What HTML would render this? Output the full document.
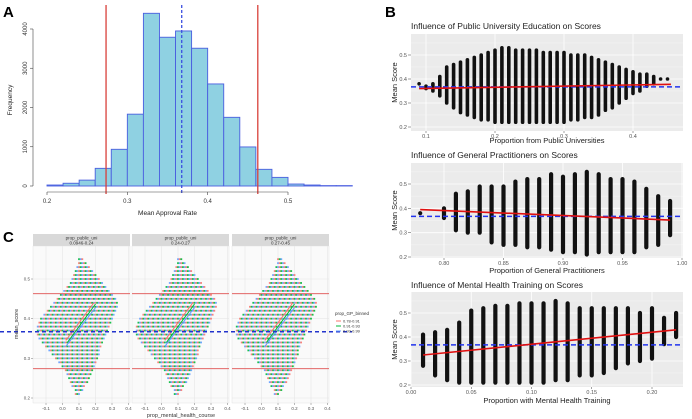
<!DOCTYPE html>
<html><head><meta charset="utf-8">
<style>
html,body{margin:0;padding:0;background:#fff;}
svg{display:block;font-family:"Liberation Sans",sans-serif;}
</style></head>
<body>
<svg id="fig" width="692" height="419" viewBox="0 0 692 419" xmlns="http://www.w3.org/2000/svg">
<g id="A"></g>
<g id="B1"></g>
<g id="B2"></g>
<g id="B3"></g>
<g id="C"></g>
</svg>
<script>
// ---------- Panel A data ----------
const histBinStarts = [0.20,0.22,0.24,0.26,0.28,0.30,0.32,0.34,0.36,0.38,0.40,0.42,0.44,0.46,0.48,0.50,0.52,0.54,0.56];
const histCounts = [25,70,150,450,935,1830,4400,3790,3950,3510,2600,1750,995,425,220,50,25,10,10];
const histYTicks = [0,1000,2000,3000,4000];
const histXTicks = [0.2,0.3,0.4,0.5];
const histRedLines = [0.2735,0.4624];
const histMeanLine = [0.3677];

// ---------- Panel B data ----------
const b1X = [0.09,0.10,0.11,0.12,0.13,0.14,0.15,0.16,0.17,0.18,0.19,0.20,0.21,0.22,0.23,0.24,0.25,0.26,0.27,0.28,0.29,0.30,0.31,0.32,0.33,0.34,0.35,0.36,0.37,0.38,0.39,0.40,0.41,0.42,0.43,0.44,0.45];
const b1Min = [0.38,0.36,0.35,0.33,0.30,0.28,0.26,0.25,0.24,0.23,0.23,0.22,0.22,0.22,0.22,0.22,0.22,0.22,0.22,0.22,0.22,0.22,0.23,0.23,0.24,0.24,0.25,0.27,0.28,0.30,0.32,0.34,0.35,0.37,0.38,0.40,0.40];
const b1Max = [0.38,0.37,0.38,0.41,0.45,0.46,0.47,0.48,0.49,0.50,0.51,0.52,0.53,0.53,0.52,0.52,0.52,0.52,0.51,0.51,0.51,0.51,0.50,0.50,0.50,0.49,0.48,0.47,0.46,0.45,0.44,0.43,0.42,0.42,0.41,0.40,0.40];
const b1Fit = [[0.09,0.360],[0.455,0.378]];
const b1XTicks = [0.1,0.2,0.3,0.4];

const b2X = [0.78,0.80,0.81,0.82,0.83,0.84,0.85,0.86,0.87,0.88,0.89,0.90,0.91,0.92,0.93,0.94,0.95,0.96,0.97,0.98,0.99];
const b2Min = [0.38,0.36,0.31,0.30,0.30,0.26,0.25,0.25,0.24,0.24,0.23,0.22,0.22,0.21,0.22,0.22,0.22,0.22,0.24,0.25,0.29];
const b2Max = [0.38,0.40,0.46,0.47,0.49,0.49,0.49,0.51,0.52,0.52,0.54,0.53,0.54,0.55,0.54,0.52,0.52,0.51,0.48,0.45,0.43];
const b2Fit = [[0.78,0.395],[0.99,0.352]];
const b2XTicks = [0.80,0.85,0.90,0.95,1.00];

const b3X = [0.01,0.02,0.03,0.04,0.05,0.06,0.07,0.08,0.09,0.10,0.11,0.12,0.13,0.14,0.15,0.16,0.17,0.18,0.19,0.20,0.21,0.22];
const b3Min = [0.28,0.24,0.22,0.21,0.21,0.21,0.21,0.21,0.21,0.21,0.21,0.22,0.22,0.24,0.24,0.25,0.27,0.29,0.30,0.31,0.37,0.40];
const b3Max = [0.41,0.42,0.43,0.46,0.51,0.52,0.53,0.53,0.54,0.54,0.54,0.55,0.54,0.52,0.52,0.52,0.52,0.52,0.50,0.52,0.48,0.50];
const b3Fit = [[0.01,0.325],[0.22,0.430]];
const b3XTicks = [0.00,0.05,0.10,0.15,0.20];
const bYTicks = [0.2,0.3,0.4,0.5];
const bMeanLine = [0.367];

// ---------- Panel C data ----------
const cRowY = [0.21,0.22,0.23,0.24,0.25,0.26,0.27,0.28,0.29,0.30,0.31,0.32,0.33,0.34,0.35,0.36,0.37,0.38,0.39,0.40,0.41,0.42,0.43,0.44,0.45,0.46,0.47,0.48,0.49,0.50,0.51,0.52,0.53,0.54,0.55];
const cRowMin = [0.08,0.08,0.06,0.05,0.04,0.03,0.02,0.0,-0.02,-0.04,-0.06,-0.08,-0.10,-0.12,-0.14,-0.15,-0.15,-0.15,-0.14,-0.13,-0.11,-0.09,-0.07,-0.05,-0.03,-0.01,0.01,0.03,0.05,0.06,0.07,0.08,0.09,0.10,0.10];
const cRowMax = [0.10,0.12,0.13,0.15,0.16,0.17,0.18,0.19,0.20,0.21,0.22,0.22,0.23,0.24,0.25,0.26,0.27,0.28,0.29,0.30,0.31,0.32,0.33,0.33,0.32,0.30,0.28,0.26,0.24,0.22,0.20,0.18,0.16,0.14,0.12];
const cFacetLabels = ["0.0946-0.24","0.24-0.27","0.27-0.45"];
const cFitRed = [[0.02,0.345],[0.19,0.440]];
const cFitGreen = [[0.03,0.340],[0.20,0.437]];
const cFitBlue = [[0.02,0.330],[0.20,0.428]];
const cXTicks = [-0.1,0.0,0.1,0.2,0.3,0.4];
const cYTicks = [0.2,0.3,0.4,0.5];
const cRedLines = [0.463,0.274];
const cMeanLine = [0.367];
const cLegendLabels = ["0.78-0.91","0.91-0.93","0.93-0.99"];
const cColors = ["#f8766d","#00ba38","#619cff"];

const NS = "http://www.w3.org/2000/svg";
function mk(parent, tag, attrs, text){
  const e = document.createElementNS(NS, tag);
  for (const k in attrs) e.setAttribute(k, attrs[k]);
  if (text !== undefined) e.textContent = text;
  parent.appendChild(e);
  return e;
}
function lin(d0,d1,r0,r1){ return v => r0 + (v-d0)/(d1-d0)*(r1-r0); }

// ================= Panel A =================
(function(){
  const g = document.getElementById('A');
  const x = lin(0.2,0.5,47,288);
  const y = lin(0,4000,186,29);
  let t = mk(g,'text',{x:3,y:17,'font-size':15,'font-weight':'bold',fill:'#000'},'A');
   
  histBinStarts.forEach((b,i)=>{
    const r = mk(g,'rect',{x:x(b),y:y(histCounts[i]),width:x(b+0.02)-x(b),height:y(0)-y(histCounts[i]),fill:'#8fd1e2',stroke:'#4a5ee0','stroke-width':0.9});
     
  });
  histRedLines.forEach(v=>{
    const l = mk(g,'line',{x1:x(v),x2:x(v),y1:5,y2:194,stroke:'#d9403a','stroke-width':1.3});
     
  });
  histMeanLine.forEach(v=>{
    const l = mk(g,'line',{x1:x(v),x2:x(v),y1:5,y2:194,stroke:'#3b4fe0','stroke-width':1.3,'stroke-dasharray':'3,2'});
     
  });
  let ax = mk(g,'line',{x1:x(0.2),x2:x(0.5),y1:192,y2:192,stroke:'#444','stroke-width':0.6});
   
  histXTicks.forEach(v=>{
    mk(g,'line',{x1:x(v),x2:x(v),y1:192,y2:195,stroke:'#444','stroke-width':0.6});
    const tl = mk(g,'text',{x:x(v),y:203,'font-size':6,'text-anchor':'middle',fill:'#333'},v.toFixed(1));
     
  });
  let ay = mk(g,'line',{x1:33,x2:33,y1:y(0),y2:y(4000),stroke:'#444','stroke-width':0.6});
   
  histYTicks.forEach(v=>{
    mk(g,'line',{x1:30,x2:33,y1:y(v),y2:y(v),stroke:'#444','stroke-width':0.6});
    const tl = mk(g,'text',{x:0,y:0,'font-size':6,'text-anchor':'middle',fill:'#333',transform:`translate(27,${y(v)}) rotate(-90)`},String(v));
     
  });
  t = mk(g,'text',{x:0,y:0,'font-size':6.5,'text-anchor':'middle',fill:'#222',transform:'translate(12,100) rotate(-90)'},'Frequency');
   
  t = mk(g,'text',{x:x(0.35),y:215,'font-size':6.5,'text-anchor':'middle',fill:'#222'},'Mean Approval Rate');
   
})();

// ================= Panel B =================
function drawB(id, cfg){
  const g = document.getElementById(id);
  const x = lin(cfg.xd[0],cfg.xd[1],cfg.xr[0],cfg.xr[1]);
  const y = lin(0.2,0.5,cfg.y02,cfg.y05);
  let r = mk(g,'rect',{x:411,y:cfg.top,width:272,height:cfg.bottom-cfg.top,fill:'#ebebeb'});
   
  bYTicks.forEach(v=>{
    mk(g,'line',{x1:411,x2:683,y1:y(v),y2:y(v),stroke:'#fff','stroke-width':0.8});
    mk(g,'line',{x1:411,x2:683,y1:y(v+0.05),y2:y(v+0.05),stroke:'#f6f6f6','stroke-width':0.4});
    mk(g,'line',{x1:408,x2:411,y1:y(v),y2:y(v),stroke:'#444','stroke-width':0.5});
    const tl = mk(g,'text',{x:407,y:y(v)+2,'font-size':5.5,'text-anchor':'end',fill:'#555'},v.toFixed(1));
     
  });
  cfg.ticks.forEach(v=>{
    mk(g,'line',{x1:x(v),x2:x(v),y1:cfg.top,y2:cfg.bottom,stroke:'#fff','stroke-width':0.8});
    mk(g,'line',{x1:x(v),x2:x(v),y1:cfg.bottom,y2:cfg.bottom+2,stroke:'#444','stroke-width':0.5});
    const tl = mk(g,'text',{x:x(v),y:cfg.bottom+7,'font-size':5.5,'text-anchor':'middle',fill:'#555'},cfg.fmt(v));
     
  });
  cfg.xs.forEach((xv,i)=>{
    const c = mk(g,'line',{x1:x(xv),x2:x(xv),y1:y(cfg.mins[i]),y2:y(cfg.maxs[i]),stroke:'#111','stroke-width':cfg.colW,'stroke-linecap':'round'});
     
  });
  bMeanLine.forEach(v=>{
    const l = mk(g,'line',{x1:411,x2:683,y1:y(v),y2:y(v),stroke:'#2233ee','stroke-width':1.5,'stroke-dasharray':'5,3'});
     
  });
  const f = mk(g,'line',{x1:x(cfg.fit[0][0]),y1:y(cfg.fit[0][1]),x2:x(cfg.fit[1][0]),y2:y(cfg.fit[1][1]),stroke:'#e01010','stroke-width':1.6});
   
  let t = mk(g,'text',{x:411,y:cfg.titleY,'font-size':8.5,fill:'#222'},cfg.title);
   
  t = mk(g,'text',{x:547,y:cfg.xlabY,'font-size':7.5,'text-anchor':'middle',fill:'#222'},cfg.xlab);
   
  t = mk(g,'text',{x:0,y:0,'font-size':7.5,'text-anchor':'middle',fill:'#222',transform:`translate(397,${(cfg.top+cfg.bottom)/2}) rotate(-90)`},'Mean Score');
   
}
(function(){
  const g = document.getElementById('B1');
  const t = mk(g,'text',{x:385,y:17,'font-size':15,'font-weight':'bold',fill:'#000'},'B');
   
})();
drawB('B1',{xd:[0.1,0.4],xr:[426,633],y02:127,y05:55,top:34,bottom:131,ticks:b1XTicks,fmt:v=>v.toFixed(1),xs:b1X,mins:b1Min,maxs:b1Max,fit:b1Fit,titleY:29,xlabY:143,colW:3.6,title:'Influence of Public University Education on Scores',xlab:'Proportion from Public Universities'});
drawB('B2',{xd:[0.80,1.00],xr:[444,682],y02:257,y05:184,top:163,bottom:258,ticks:b2XTicks,fmt:v=>v.toFixed(2),xs:b2X,mins:b2Min,maxs:b2Max,fit:b2Fit,titleY:158,xlabY:273,colW:4.2,title:'Influence of General Practitioners on Scores',xlab:'Proportion of General Practitioners'});
drawB('B3',{xd:[0.00,0.20],xr:[411,652],y02:385,y05:313,top:292,bottom:387,ticks:b3XTicks,fmt:v=>v.toFixed(2),xs:b3X,mins:b3Min,maxs:b3Max,fit:b3Fit,titleY:288,xlabY:403,colW:4.2,title:'Influence of Mental Health Training on Scores',xlab:'Proportion with Mental Health Training'});

// ================= Panel C =================
(function(){
  const g = document.getElementById('C');
  let t = mk(g,'text',{x:3,y:242,'font-size':15,'font-weight':'bold',fill:'#000'},'C');
   
  const y = lin(0.2,0.5,398,279);
  const facetLeft = [33,132,232];
  facetLeft.forEach((L,fi)=>{
    const x = lin(0,0.1,L+29.5,L+46);
    const W = 97;
    let s = mk(g,'rect',{x:L,y:234,width:W,height:12,fill:'#d9d9d9'});
     
    t = mk(g,'text',{x:L+W/2,y:239.5,'font-size':4.5,'text-anchor':'middle',fill:'#333'},'prop_public_uni');
     
    t = mk(g,'text',{x:L+W/2,y:244.5,'font-size':4.5,'text-anchor':'middle',fill:'#333'},cFacetLabels[fi]);
     
    let bg = mk(g,'rect',{x:L,y:246,width:W,height:157,fill:'#fafafa',stroke:'#ddd','stroke-width':0.4});
     
    cYTicks.forEach(v=> mk(g,'line',{x1:L,x2:L+W,y1:y(v),y2:y(v),stroke:'#e6e6e6','stroke-width':0.6}));
    cXTicks.forEach(v=>{
      mk(g,'line',{x1:x(v),x2:x(v),y1:246,y2:403,stroke:'#e6e6e6','stroke-width':0.6});
      mk(g,'line',{x1:x(v),x2:x(v),y1:403,y2:405,stroke:'#555','stroke-width':0.4});
      const tl = mk(g,'text',{x:x(v),y:410,'font-size':4.5,'text-anchor':'middle',fill:'#555'},v.toFixed(1));
       
    });
    cRowY.forEach((ry,ri)=>{
      let k = 0;
      for (let xv = cRowMin[ri]; xv <= cRowMax[ri] + 1e-9; xv += 0.01){
        const ci = (k + ri + fi) % 3;
        const d = mk(g,'rect',{x:x(xv)-0.9,y:y(ry)-0.9,width:1.8,height:1.8,fill:cColors[ci],opacity:0.9});
         
        k++;
      }
    });
    cRedLines.forEach(v=>{
      const l = mk(g,'line',{x1:L,x2:L+W,y1:y(v),y2:y(v),stroke:'#e05050','stroke-width':0.9});
       
    });
    [[cFitRed,'#f8766d'],[cFitGreen,'#00ba38'],[cFitBlue,'#619cff']].forEach(([fit,col])=>{
      const l = mk(g,'line',{x1:x(fit[0][0]),y1:y(fit[0][1]),x2:x(fit[1][0]),y2:y(fit[1][1]),stroke:col,'stroke-width':1});
       
    });
  });
  cMeanLine.forEach(v=>{
    const l = mk(g,'line',{x1:0,x2:352,y1:y(v),y2:y(v),stroke:'#2233cc','stroke-width':1.5,'stroke-dasharray':'4,3'});
     
  });
  cYTicks.forEach(v=>{
    mk(g,'line',{x1:31,x2:33,y1:y(v),y2:y(v),stroke:'#555','stroke-width':0.4});
    const tl = mk(g,'text',{x:30,y:y(v)+1.5,'font-size':4.5,'text-anchor':'end',fill:'#555'},v.toFixed(1));
     
  });
  t = mk(g,'text',{x:0,y:0,'font-size':5.5,'text-anchor':'middle',fill:'#333',transform:'translate(18,324) rotate(-90)'},'mean_score');
   
  t = mk(g,'text',{x:181,y:417,'font-size':5.5,'text-anchor':'middle',fill:'#333'},'prop_mental_health_course');
   
  t = mk(g,'text',{x:335,y:315,'font-size':4.5,fill:'#333'},'prop_GP_binned');
   
  cLegendLabels.forEach((lab,i)=>{
    const ly = 321 + i*5;
    const sw = mk(g,'line',{x1:336,x2:341,y1:ly,y2:ly,stroke:cColors[i],'stroke-width':1});
     
    const lt = mk(g,'text',{x:343,y:ly+1.5,'font-size':4,fill:'#333'},lab);
     
  });
})();
</script>
</body></html>
